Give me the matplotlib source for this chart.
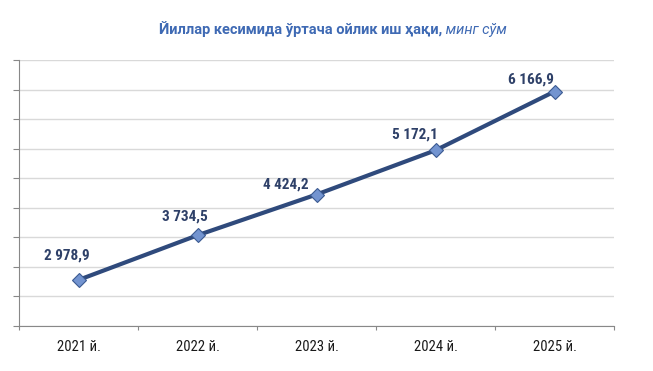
import matplotlib
matplotlib.use("Agg")
import matplotlib.pyplot as plt

years = ["2021 й.", "2022 й.", "2023 й.", "2024 й.", "2025 й."]
salary = [2978.9, 3734.5, 4424.2, 5172.1, 6166.9]
labels = ["2 978,9", "3 734,5", "4 424,2", "5 172,1", "6 166,9"]

plt.rcParams['font.family'] = ['Roboto', 'DejaVu Sans']
narrow = ['Roboto Condensed', 'Roboto', 'DejaVu Sans']

fig = plt.figure(figsize=(6.53, 3.71), dpi=100)
ax = fig.add_axes([19/653, 1 - 326/371, (614 - 19)/653, (326 - 60)/371])

x = list(range(len(years)))
ax.plot(x, salary, color='#2f4a7c', lw=3, marker='D', ms=7,
        mfc='#7394d0', mec='#3b5a92', mew=0.8, zorder=3)

# label positions relative to the point (pixels), as placed in the original
offs = [(-12, 24), (-13, 19), (-31, 10), (-21, 16), (-24, 12)]
for xi, yi, lab, (dx, dy) in zip(x, salary, labels, offs):
    ax.annotate(lab, (xi, yi), xytext=(dx, dy), textcoords='offset pixels',
                ha='center', va='center', fontsize=11, fontweight='bold',
                color='#2e4068', family=narrow)

ax.set_xlim(-0.5, 4.5)
ax.set_ylim(2200, 6700)
ax.set_yticks(range(2200, 6701, 500))
ax.yaxis.grid(True, color='#d9d9d9', lw=1)
ax.set_axisbelow(True)
ax.set_yticklabels([])
ax.tick_params(axis='y', length=4, color='#888888', width=0.8)

ax.set_xticks(x)
ax.set_xticklabels(years, fontsize=10.5, color='#1a1a1a', family=narrow)
ax.set_xticks([i + 0.5 for i in range(-1, 5)], minor=True)
ax.tick_params(axis='x', which='major', length=0, pad=10)
ax.tick_params(axis='x', which='minor', length=3, color='#888888', width=0.8)

for s in ['top', 'right']:
    ax.spines[s].set_visible(False)
ax.spines['left'].set_color('#888888')
ax.spines['bottom'].set_color('#888888')
ax.spines['left'].set_linewidth(0.8)
ax.spines['bottom'].set_linewidth(0.8)

# title: bold part + italic part
t1 = fig.text(0, 0, "Йиллар кесимида ўртача ойлик иш ҳақи,", fontsize=10.5,
              fontweight='bold', color='#3f6ab4')
t2 = fig.text(0, 0, " минг сўм", fontsize=10.5, style='italic', color='#3f6ab4')
fig.canvas.draw()
r = fig.canvas.get_renderer()
w1 = t1.get_window_extent(r).width
w2 = t2.get_window_extent(r).width
x0 = (333 - (w1 + w2) / 2) / 653
t1.set_position((x0, 1 - 34/371))
t2.set_position((x0 + w1/653, 1 - 34/371))

fig.savefig("out.png", dpi=100)
